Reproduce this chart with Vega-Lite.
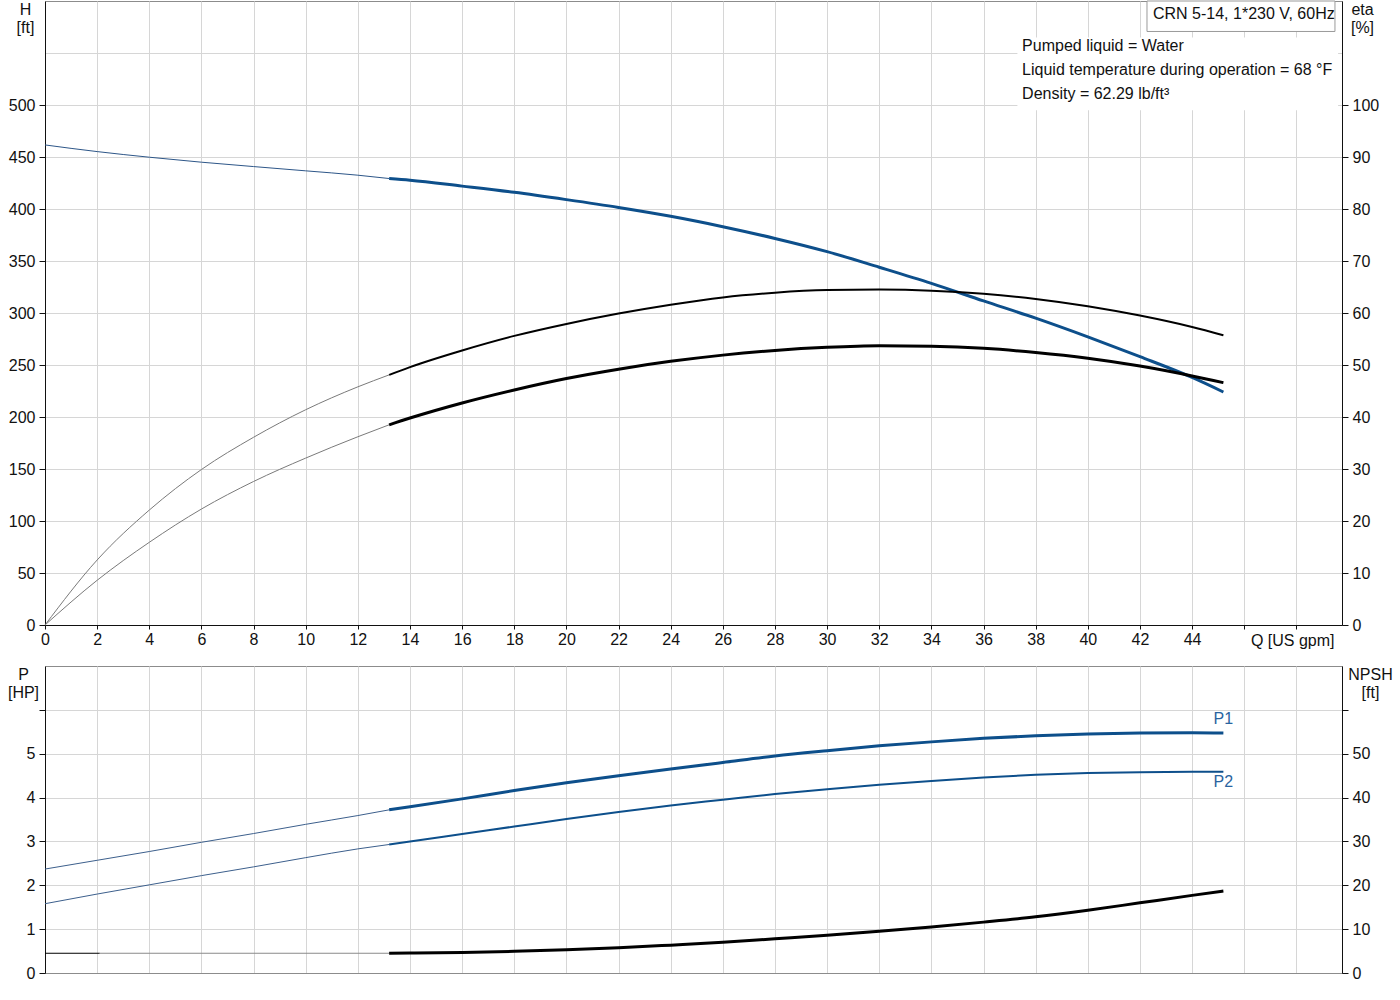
{
  "$schema": "https://vega.github.io/schema/vega-lite/v6.json",
  "padding": {"left": 6, "top": 0, "right": 0, "bottom": 0},
  "background": "white",
  "config": {
    "font": "Liberation Sans",
    "view": {"stroke": "#8c8c8c"},
    "axis": {
      "labelFont": "Liberation Sans", "labelFontSize": 16, "labelColor": "#111",
      "titleFont": "Liberation Sans", "titleFontSize": 16, "titleFontWeight": "normal", "titleColor": "#111",
      "gridColor": "#d6d6d6", "domainColor": "#111", "tickColor": "#111",
      "labelFlush": false, "labelOverlap": false
    }
  },
  "datasets": {
    "curves": [
      {"c": "H", "s": "thin", "q": 0, "v": 461.6}, {"c": "H", "s": "thin", "q": 2, "v": 455.2}, {"c": "H", "s": "thin", "q": 4, "v": 449.8},
      {"c": "H", "s": "thin", "q": 6, "v": 445.0}, {"c": "H", "s": "thin", "q": 8, "v": 440.8}, {"c": "H", "s": "thin", "q": 10, "v": 436.7},
      {"c": "H", "s": "thin", "q": 12, "v": 432.5}, {"c": "H", "s": "thin", "q": 13.2, "v": 429.3},
      {"c": "H", "s": "thick", "q": 13.2, "v": 429.3}, {"c": "H", "s": "thick", "q": 14, "v": 427.7}, {"c": "H", "s": "thick", "q": 16, "v": 422.0},
      {"c": "H", "s": "thick", "q": 18, "v": 416.0}, {"c": "H", "s": "thick", "q": 20, "v": 409.0}, {"c": "H", "s": "thick", "q": 22, "v": 401.5},
      {"c": "H", "s": "thick", "q": 24, "v": 393.0}, {"c": "H", "s": "thick", "q": 26, "v": 383.0}, {"c": "H", "s": "thick", "q": 28, "v": 371.7},
      {"c": "H", "s": "thick", "q": 30, "v": 359.0}, {"c": "H", "s": "thick", "q": 32, "v": 344.0}, {"c": "H", "s": "thick", "q": 34, "v": 328.5},
      {"c": "H", "s": "thick", "q": 36, "v": 311.6}, {"c": "H", "s": "thick", "q": 38, "v": 295.0}, {"c": "H", "s": "thick", "q": 40, "v": 277.0},
      {"c": "H", "s": "thick", "q": 42, "v": 258.0}, {"c": "H", "s": "thick", "q": 44, "v": 238.0}, {"c": "H", "s": "thick", "q": 45.2, "v": 224.0},

      {"c": "eta1", "s": "thin", "q": 0, "v": 0}, {"c": "eta1", "s": "thin", "q": 2, "v": 12.5}, {"c": "eta1", "s": "thin", "q": 4, "v": 22.1},
      {"c": "eta1", "s": "thin", "q": 6, "v": 29.9}, {"c": "eta1", "s": "thin", "q": 8, "v": 36.1}, {"c": "eta1", "s": "thin", "q": 10, "v": 41.4},
      {"c": "eta1", "s": "thin", "q": 12, "v": 45.8}, {"c": "eta1", "s": "thin", "q": 13.2, "v": 48.1},
      {"c": "eta1", "s": "thick", "q": 13.2, "v": 48.1}, {"c": "eta1", "s": "thick", "q": 14, "v": 49.6}, {"c": "eta1", "s": "thick", "q": 16, "v": 52.8},
      {"c": "eta1", "s": "thick", "q": 18, "v": 55.6}, {"c": "eta1", "s": "thick", "q": 20, "v": 57.9}, {"c": "eta1", "s": "thick", "q": 22, "v": 59.9},
      {"c": "eta1", "s": "thick", "q": 24, "v": 61.6}, {"c": "eta1", "s": "thick", "q": 26, "v": 63.0}, {"c": "eta1", "s": "thick", "q": 28, "v": 63.9},
      {"c": "eta1", "s": "thick", "q": 30, "v": 64.4}, {"c": "eta1", "s": "thick", "q": 32, "v": 64.5}, {"c": "eta1", "s": "thick", "q": 34, "v": 64.3},
      {"c": "eta1", "s": "thick", "q": 36, "v": 63.7}, {"c": "eta1", "s": "thick", "q": 38, "v": 62.7}, {"c": "eta1", "s": "thick", "q": 40, "v": 61.3},
      {"c": "eta1", "s": "thick", "q": 42, "v": 59.5}, {"c": "eta1", "s": "thick", "q": 44, "v": 57.3}, {"c": "eta1", "s": "thick", "q": 45.2, "v": 55.7},

      {"c": "eta2", "s": "thin", "q": 0, "v": 0}, {"c": "eta2", "s": "thin", "q": 2, "v": 8.6}, {"c": "eta2", "s": "thin", "q": 4, "v": 15.9},
      {"c": "eta2", "s": "thin", "q": 6, "v": 22.3}, {"c": "eta2", "s": "thin", "q": 8, "v": 27.6}, {"c": "eta2", "s": "thin", "q": 10, "v": 32.1},
      {"c": "eta2", "s": "thin", "q": 12, "v": 36.2}, {"c": "eta2", "s": "thin", "q": 13.2, "v": 38.5},
      {"c": "eta2", "s": "thick", "q": 13.2, "v": 38.5}, {"c": "eta2", "s": "thick", "q": 14, "v": 39.8}, {"c": "eta2", "s": "thick", "q": 16, "v": 42.7},
      {"c": "eta2", "s": "thick", "q": 18, "v": 45.2}, {"c": "eta2", "s": "thick", "q": 20, "v": 47.4}, {"c": "eta2", "s": "thick", "q": 22, "v": 49.2},
      {"c": "eta2", "s": "thick", "q": 24, "v": 50.7}, {"c": "eta2", "s": "thick", "q": 26, "v": 51.9}, {"c": "eta2", "s": "thick", "q": 28, "v": 52.8},
      {"c": "eta2", "s": "thick", "q": 30, "v": 53.4}, {"c": "eta2", "s": "thick", "q": 32, "v": 53.7}, {"c": "eta2", "s": "thick", "q": 34, "v": 53.6},
      {"c": "eta2", "s": "thick", "q": 36, "v": 53.2}, {"c": "eta2", "s": "thick", "q": 38, "v": 52.4}, {"c": "eta2", "s": "thick", "q": 40, "v": 51.3},
      {"c": "eta2", "s": "thick", "q": 42, "v": 49.8}, {"c": "eta2", "s": "thick", "q": 44, "v": 47.9}, {"c": "eta2", "s": "thick", "q": 45.2, "v": 46.6},

      {"c": "P1", "s": "thin", "q": 0, "v": 2.37}, {"c": "P1", "s": "thin", "q": 2, "v": 2.57}, {"c": "P1", "s": "thin", "q": 4, "v": 2.77},
      {"c": "P1", "s": "thin", "q": 6, "v": 2.98}, {"c": "P1", "s": "thin", "q": 8, "v": 3.18}, {"c": "P1", "s": "thin", "q": 10, "v": 3.39},
      {"c": "P1", "s": "thin", "q": 12, "v": 3.59}, {"c": "P1", "s": "thin", "q": 13.2, "v": 3.72},
      {"c": "P1", "s": "thick", "q": 13.2, "v": 3.72}, {"c": "P1", "s": "thick", "q": 14, "v": 3.79}, {"c": "P1", "s": "thick", "q": 16, "v": 3.97},
      {"c": "P1", "s": "thick", "q": 18, "v": 4.16}, {"c": "P1", "s": "thick", "q": 20, "v": 4.34}, {"c": "P1", "s": "thick", "q": 22, "v": 4.50},
      {"c": "P1", "s": "thick", "q": 24, "v": 4.65}, {"c": "P1", "s": "thick", "q": 26, "v": 4.80}, {"c": "P1", "s": "thick", "q": 28, "v": 4.95},
      {"c": "P1", "s": "thick", "q": 30, "v": 5.07}, {"c": "P1", "s": "thick", "q": 32, "v": 5.18}, {"c": "P1", "s": "thick", "q": 34, "v": 5.27},
      {"c": "P1", "s": "thick", "q": 36, "v": 5.35}, {"c": "P1", "s": "thick", "q": 38, "v": 5.41}, {"c": "P1", "s": "thick", "q": 40, "v": 5.45},
      {"c": "P1", "s": "thick", "q": 42, "v": 5.47}, {"c": "P1", "s": "thick", "q": 44, "v": 5.48}, {"c": "P1", "s": "thick", "q": 45.2, "v": 5.47},

      {"c": "P2", "s": "thin", "q": 0, "v": 1.58}, {"c": "P2", "s": "thin", "q": 2, "v": 1.80}, {"c": "P2", "s": "thin", "q": 4, "v": 2.01},
      {"c": "P2", "s": "thin", "q": 6, "v": 2.22}, {"c": "P2", "s": "thin", "q": 8, "v": 2.42}, {"c": "P2", "s": "thin", "q": 10, "v": 2.63},
      {"c": "P2", "s": "thin", "q": 12, "v": 2.83}, {"c": "P2", "s": "thin", "q": 13.2, "v": 2.93},
      {"c": "P2", "s": "thick", "q": 13.2, "v": 2.93}, {"c": "P2", "s": "thick", "q": 14, "v": 3.00}, {"c": "P2", "s": "thick", "q": 16, "v": 3.17},
      {"c": "P2", "s": "thick", "q": 18, "v": 3.34}, {"c": "P2", "s": "thick", "q": 20, "v": 3.51}, {"c": "P2", "s": "thick", "q": 22, "v": 3.67},
      {"c": "P2", "s": "thick", "q": 24, "v": 3.82}, {"c": "P2", "s": "thick", "q": 26, "v": 3.95}, {"c": "P2", "s": "thick", "q": 28, "v": 4.08},
      {"c": "P2", "s": "thick", "q": 30, "v": 4.19}, {"c": "P2", "s": "thick", "q": 32, "v": 4.29}, {"c": "P2", "s": "thick", "q": 34, "v": 4.38},
      {"c": "P2", "s": "thick", "q": 36, "v": 4.46}, {"c": "P2", "s": "thick", "q": 38, "v": 4.52}, {"c": "P2", "s": "thick", "q": 40, "v": 4.56},
      {"c": "P2", "s": "thick", "q": 42, "v": 4.58}, {"c": "P2", "s": "thick", "q": 44, "v": 4.59}, {"c": "P2", "s": "thick", "q": 45.2, "v": 4.59},

      {"c": "NPSH", "s": "lead", "q": 0, "v": 4.5}, {"c": "NPSH", "s": "lead", "q": 2.1, "v": 4.5},
      {"c": "NPSH", "s": "thin", "q": 2.1, "v": 4.5}, {"c": "NPSH", "s": "thin", "q": 13.2, "v": 4.5},
      {"c": "NPSH", "s": "thick", "q": 13.2, "v": 4.5}, {"c": "NPSH", "s": "thick", "q": 14, "v": 4.55}, {"c": "NPSH", "s": "thick", "q": 16, "v": 4.7},
      {"c": "NPSH", "s": "thick", "q": 18, "v": 4.95}, {"c": "NPSH", "s": "thick", "q": 20, "v": 5.3}, {"c": "NPSH", "s": "thick", "q": 22, "v": 5.75},
      {"c": "NPSH", "s": "thick", "q": 24, "v": 6.35}, {"c": "NPSH", "s": "thick", "q": 26, "v": 7.0}, {"c": "NPSH", "s": "thick", "q": 28, "v": 7.8},
      {"c": "NPSH", "s": "thick", "q": 30, "v": 8.6}, {"c": "NPSH", "s": "thick", "q": 32, "v": 9.5}, {"c": "NPSH", "s": "thick", "q": 34, "v": 10.5},
      {"c": "NPSH", "s": "thick", "q": 36, "v": 11.6}, {"c": "NPSH", "s": "thick", "q": 38, "v": 12.8}, {"c": "NPSH", "s": "thick", "q": 40, "v": 14.3},
      {"c": "NPSH", "s": "thick", "q": 42, "v": 16.0}, {"c": "NPSH", "s": "thick", "q": 44, "v": 17.7}, {"c": "NPSH", "s": "thick", "q": 45.2, "v": 18.7}
    ]
  },
  "bounds": "flush",
  "spacing": 41,
  "vconcat": [
    {
      "width": 1297,
      "height": 624,
      "layer": [
        {
          "encoding": {
            "x": {
              "field": "q", "type": "quantitative",
              "scale": {"domain": [0, 49.75], "nice": false, "zero": false},
              "axis": {
                "orient": "bottom",
                "values": [0, 2, 4, 6, 8, 10, 12, 14, 16, 18, 20, 22, 24, 26, 28, 30, 32, 34, 36, 38, 40, 42, 44, 46, 48],
                "labelExpr": "datum.value <= 44 ? datum.label : ''",
                "title": "Q [US gpm]",
                "titleAnchor": "start",
                "titleAlign": "right",
                "titleX": 1289,
                "titleY": 20,
                "titleBaseline": "alphabetic",
                "tickSize": 4,
                "labelPadding": 2,
                "grid": true
              }
            },
            "y": {
              "field": "v", "type": "quantitative",
              "scale": {"domain": [0, 600], "nice": false},
              "axis": {
                "orient": "left",
                "values": [0, 50, 100, 150, 200, 250, 300, 350, 400, 450, 500, 550],
                "labelExpr": "datum.value <= 500 ? datum.label : ''",
                "tickOpacity": {"condition": {"test": "datum.value > 500", "value": 0}, "value": 1},
                "title": ["H", "[ft]"],
                "titleAngle": 0, "titleAlign": "center", "titleBaseline": "top",
                "titleX": -20, "titleY": 0, "titleLineHeight": 18,
                "tickSize": 6, "labelPadding": 4, "grid": true
              }
            }
          },
          "layer": [
            {
              "data": {"name": "curves"},
              "transform": [{"filter": "datum.c == 'H' && datum.s == 'thin'"}],
              "mark": {"type": "line", "color": "#2d5688", "strokeWidth": 1, "interpolate": "monotone"}
            },
            {
              "data": {"name": "curves"},
              "transform": [{"filter": "datum.c == 'H' && datum.s == 'thick'"}],
              "mark": {"type": "line", "color": "#0d4f8b", "strokeWidth": 3, "interpolate": "monotone"}
            }
          ]
        },
        {
          "encoding": {
            "x": {
              "field": "q", "type": "quantitative",
              "scale": {"domain": [0, 49.75], "nice": false, "zero": false}
            },
            "y": {
              "field": "v", "type": "quantitative",
              "scale": {"domain": [0, 120], "nice": false},
              "axis": {
                "orient": "right",
                "values": [0, 10, 20, 30, 40, 50, 60, 70, 80, 90, 100],
                "title": ["eta", "[%]"],
                "titleAngle": 0, "titleAlign": "center", "titleBaseline": "top",
                "titleX": 20, "titleY": 0, "titleLineHeight": 18,
                "tickSize": 6, "labelPadding": 4, "grid": false
              }
            }
          },
          "layer": [
            {
              "data": {"name": "curves"},
              "transform": [{"filter": "(datum.c == 'eta1' || datum.c == 'eta2') && datum.s == 'thin'"}],
              "mark": {"type": "line", "color": "#7a7a7a", "strokeWidth": 1, "interpolate": "monotone"},
              "encoding": {"detail": {"field": "c"}}
            },
            {
              "data": {"name": "curves"},
              "transform": [{"filter": "datum.c == 'eta1' && datum.s == 'thick'"}],
              "mark": {"type": "line", "color": "#000", "strokeWidth": 2, "interpolate": "monotone"}
            },
            {
              "data": {"name": "curves"},
              "transform": [{"filter": "datum.c == 'eta2' && datum.s == 'thick'"}],
              "mark": {"type": "line", "color": "#000", "strokeWidth": 3, "interpolate": "monotone"}
            }
          ]
        },
        {
          "data": {"values": [{"note": "annotation"}]},
          "layer": [
            {
              "mark": {"type": "rect", "fill": "white", "strokeWidth": 0},
              "encoding": {
                "x": {"datum": 37.3, "type": "quantitative", "scale": {"domain": [0, 49.75], "nice": false, "zero": false}},
                "x2": {"datum": 49.6},
                "y": {"datum": 495, "type": "quantitative", "scale": {"domain": [0, 600], "nice": false}, "axis": null},
                "y2": {"datum": 565}
              }
            },
            {
              "mark": {"type": "rect", "fill": "white", "stroke": "#9a9a9a", "strokeWidth": 1},
              "encoding": {
                "x": {"datum": 42.27, "type": "quantitative", "scale": {"domain": [0, 49.75], "nice": false, "zero": false}},
                "x2": {"datum": 49.48},
                "y": {"datum": 570.7, "type": "quantitative", "scale": {"domain": [0, 600], "nice": false}, "axis": null},
                "y2": {"datum": 600}
              }
            },
            {
              "mark": {"type": "text", "text": "CRN 5-14, 1*230 V, 60Hz", "align": "left", "baseline": "alphabetic", "fontSize": 16, "color": "#111"},
              "encoding": {
                "x": {"datum": 42.5, "type": "quantitative", "scale": {"domain": [0, 49.75], "nice": false, "zero": false}},
                "y": {"datum": 582.5, "type": "quantitative", "scale": {"domain": [0, 600], "nice": false}, "axis": null}
              }
            },
            {
              "mark": {
                "type": "text",
                "text": ["Pumped liquid = Water", "Liquid temperature during operation = 68 °F", "Density = 62.29 lb/ft³"],
                "lineHeight": 24, "align": "left", "baseline": "alphabetic", "fontSize": 16, "color": "#111"
              },
              "encoding": {
                "x": {"datum": 37.48, "type": "quantitative", "scale": {"domain": [0, 49.75], "nice": false, "zero": false}},
                "y": {"datum": 551.8, "type": "quantitative", "scale": {"domain": [0, 600], "nice": false}, "axis": null}
              }
            }
          ]
        }
      ],
      "resolve": {"scale": {"y": "independent"}}
    },
    {
      "width": 1297,
      "height": 307,
      "encoding": {
        "x": {
          "field": "q", "type": "quantitative",
          "scale": {"domain": [0, 49.75], "nice": false, "zero": false},
          "axis": {
            "orient": "bottom",
            "values": [0, 2, 4, 6, 8, 10, 12, 14, 16, 18, 20, 22, 24, 26, 28, 30, 32, 34, 36, 38, 40, 42, 44, 46, 48],
            "labels": false, "ticks": false, "title": null,
            "domainColor": "#8c8c8c", "grid": true
          }
        }
      },
      "layer": [
        {
          "encoding": {
            "y": {
              "field": "v", "type": "quantitative",
              "scale": {"domain": [0, 7], "nice": false},
              "axis": {
                "orient": "left",
                "values": [0, 1, 2, 3, 4, 5, 6],
                "labelExpr": "datum.value <= 5 ? datum.label : ''",
                "title": ["P", "[HP]"],
                "titleAngle": 0, "titleAlign": "center", "titleBaseline": "top",
                "titleX": -22, "titleY": 0, "titleLineHeight": 18,
                "tickSize": 6, "labelPadding": 4, "grid": true
              }
            }
          },
          "layer": [
            {
              "data": {"name": "curves"},
              "transform": [{"filter": "(datum.c == 'P1' || datum.c == 'P2') && datum.s == 'thin'"}],
              "mark": {"type": "line", "color": "#3c5f8c", "strokeWidth": 1, "interpolate": "monotone"},
              "encoding": {"detail": {"field": "c"}}
            },
            {
              "data": {"name": "curves"},
              "transform": [{"filter": "datum.c == 'P1' && datum.s == 'thick'"}],
              "mark": {"type": "line", "color": "#0d4f8b", "strokeWidth": 3, "interpolate": "monotone"}
            },
            {
              "data": {"name": "curves"},
              "transform": [{"filter": "datum.c == 'P2' && datum.s == 'thick'"}],
              "mark": {"type": "line", "color": "#0d4f8b", "strokeWidth": 2, "interpolate": "monotone"}
            },
            {
              "data": {"name": "curves"},
              "transform": [{"filter": "datum.c == 'P1' && datum.s == 'thick' && datum.q == 45.2"}],
              "mark": {"type": "text", "align": "center", "baseline": "alphabetic", "dy": -9, "fontSize": 16, "color": "#2a64a0"},
              "encoding": {"text": {"field": "c"}}
            },
            {
              "data": {"name": "curves"},
              "transform": [{"filter": "datum.c == 'P2' && datum.s == 'thick' && datum.q == 45.2"}],
              "mark": {"type": "text", "align": "center", "baseline": "alphabetic", "dy": 15, "fontSize": 16, "color": "#2a64a0"},
              "encoding": {"text": {"field": "c"}}
            }
          ]
        },
        {
          "encoding": {
            "y": {
              "field": "v", "type": "quantitative",
              "scale": {"domain": [0, 70], "nice": false},
              "axis": {
                "orient": "right",
                "values": [0, 10, 20, 30, 40, 50, 60],
                "labelExpr": "datum.value <= 50 ? datum.label : ''",
                "title": ["NPSH", "[ft]"],
                "titleAngle": 0, "titleAlign": "center", "titleBaseline": "top",
                "titleX": 28, "titleY": 0, "titleLineHeight": 18,
                "tickSize": 6, "labelPadding": 4, "grid": false
              }
            }
          },
          "layer": [
            {
              "data": {"name": "curves"},
              "transform": [{"filter": "datum.c == 'NPSH' && datum.s == 'lead'"}],
              "mark": {"type": "line", "color": "#000", "strokeWidth": 1}
            },
            {
              "data": {"name": "curves"},
              "transform": [{"filter": "datum.c == 'NPSH' && datum.s == 'thin'"}],
              "mark": {"type": "line", "color": "#8a8a8a", "strokeWidth": 1}
            },
            {
              "data": {"name": "curves"},
              "transform": [{"filter": "datum.c == 'NPSH' && datum.s == 'thick'"}],
              "mark": {"type": "line", "color": "#000", "strokeWidth": 3, "interpolate": "monotone"}
            }
          ]
        }
      ],
      "resolve": {"scale": {"y": "independent"}}
    }
  ]
}
